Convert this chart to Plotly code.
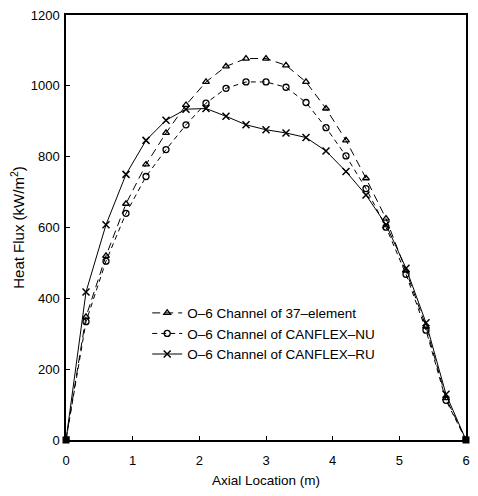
import plotly.graph_objects as go

x_loc = [0, 0.3, 0.6, 0.9, 1.2, 1.5, 1.8, 2.1, 2.4, 2.7, 3.0, 3.3, 3.6, 3.9, 4.2, 4.5, 4.8, 5.1, 5.4, 5.7, 6.0]
flux_37 = [0, 348, 520, 667, 778, 867, 946, 1011, 1055, 1077, 1077, 1058, 1011, 936, 846, 739, 625, 478, 320, 118, 0]
flux_nu = [0, 334, 505, 640, 744, 820, 890, 951, 993, 1011, 1011, 996, 953, 882, 802, 710, 601, 468, 310, 112, 0]
flux_ru = [0, 418, 608, 750, 846, 903, 934, 936, 914, 890, 876, 867, 854, 816, 758, 692, 608, 485, 331, 129, 0]
names = ["O–6 Channel of 37–element", "O–6 Channel of CANFLEX–NU", "O–6 Channel of CANFLEX–RU"]

FONT = "Liberation Sans, Arial, sans-serif"
fig = go.Figure()

fig.add_trace(go.Scatter(x=x_loc, y=flux_37, name=names[0], mode="lines+markers",
                         line=dict(color="black", width=1, dash="8px,5px"),
                         marker=dict(symbol="triangle-up-open", size=6, color="black",
                                     line=dict(width=1.3, color="black"))))
fig.add_trace(go.Scatter(x=x_loc, y=flux_nu, name=names[1], mode="lines+markers",
                         line=dict(color="black", width=1, dash="5px,4px"),
                         marker=dict(symbol="circle-open", size=6, color="black",
                                     line=dict(width=1.3, color="black"))))
fig.add_trace(go.Scatter(x=x_loc, y=flux_ru, name=names[2], mode="lines+markers",
                         line=dict(color="black", width=1),
                         marker=dict(symbol="x-thin", size=7, color="black",
                                     line=dict(width=1.5, color="black"))))
# shared end points (drawn as filled squares in the reference)
fig.add_trace(go.Scatter(x=[x_loc[0], x_loc[-1]], y=[flux_ru[0], flux_ru[-1]], mode="markers",
                         showlegend=False, cliponaxis=False,
                         marker=dict(symbol="square", size=7, color="black")))

fig.update_layout(
    width=478, height=496,
    margin=dict(l=66, r=8, t=11, b=56),
    paper_bgcolor="white", plot_bgcolor="white",
    font=dict(family=FONT, size=13, color="black"),
    legend=dict(x=0.203, y=0.335, xanchor="left", yanchor="top",
                bgcolor="rgba(0,0,0,0)", font=dict(size=13.5, family=FONT),
                itemwidth=30, tracegroupgap=0),
)
fig.update_xaxes(range=[0, 6], tickvals=[0, 1, 2, 3, 4, 5, 6],
                 showline=True, linecolor="black", linewidth=1.5, mirror=True,
                 ticks="inside", ticklen=4, tickcolor="black", showgrid=False, zeroline=False,
                 ticklabelstandoff=8,
                 title=dict(text="Axial Location (m)", standoff=8, font=dict(size=13.5)),
                 tickfont=dict(size=13))
fig.update_yaxes(range=[0, 1200], tickvals=[0, 200, 400, 600, 800, 1000, 1200],
                 showline=True, linecolor="black", linewidth=1.5, mirror=True,
                 ticks="inside", ticklen=4, tickcolor="black", showgrid=False, zeroline=False,
                 ticklabelstandoff=2,
                 title=dict(text="Heat Flux (kW/m<sup>2</sup>)", standoff=2, font=dict(size=15)),
                 tickfont=dict(size=13))

fig.write_html("out.html")
